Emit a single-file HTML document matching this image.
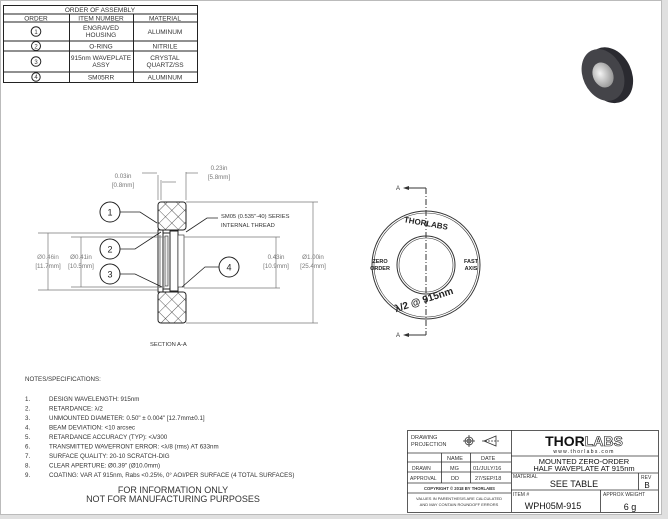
<!DOCTYPE html>
<html><head><meta charset="utf-8"><style>
html,body{margin:0;padding:0;background:#e6e6e6;}
svg{display:block;font-family:"Liberation Sans",sans-serif;}
</style></head><body>
<svg width="668" height="519" viewBox="0 0 668 519" xmlns="http://www.w3.org/2000/svg">
<defs>
<pattern id="hatch" width="9" height="9" patternUnits="userSpaceOnUse" patternTransform="rotate(45)">
<rect width="9" height="9" fill="#fff"/>
<line x1="0" y1="0" x2="0" y2="9" stroke="#333" stroke-width="0.8"/>
<line x1="0" y1="0" x2="9" y2="0" stroke="#333" stroke-width="0.8"/>
</pattern>
<radialGradient id="lens" cx="0.4" cy="0.4" r="0.6"><stop offset="0" stop-color="#f4f4f4"/><stop offset="1" stop-color="#9a9a9a"/></radialGradient>
</defs>
<rect x="0" y="0" width="662" height="515" fill="#fff"/>
<rect x="0.5" y="0.5" width="661" height="514" fill="none" stroke="#bbb"/>
<rect x="662" y="0" width="6" height="519" fill="#e0e0e0"/>
<rect x="0" y="515" width="668" height="4" fill="#e0e0e0"/>

<!-- assembly table -->
<g stroke="#222" stroke-width="1" fill="none">
<rect x="3.5" y="5.5" width="194" height="77"/>
<line x1="3.5" y1="14" x2="197.5" y2="14"/>
<line x1="3.5" y1="22" x2="197.5" y2="22"/>
<line x1="3.5" y1="41" x2="197.5" y2="41"/>
<line x1="3.5" y1="51" x2="197.5" y2="51"/>
<line x1="3.5" y1="72" x2="197.5" y2="72"/>
<line x1="69.5" y1="14" x2="69.5" y2="82"/>
<line x1="133.5" y1="14" x2="133.5" y2="82"/>
<circle cx="36" cy="31.5" r="4.8"/><circle cx="36" cy="46" r="4.5"/><circle cx="36" cy="61.5" r="4.8"/><circle cx="36" cy="77" r="4.2"/>
</g>
<g font-size="6.5" fill="#333" text-anchor="middle">
<text x="100" y="12">ORDER OF ASSEMBLY</text>
<text x="36" y="20.5">ORDER</text><text x="101" y="20.5">ITEM NUMBER</text><text x="165" y="20.5">MATERIAL</text>
<text x="101" y="30">ENGRAVED</text><text x="101" y="37">HOUSING</text><text x="165" y="34">ALUMINUM</text>
<text x="101" y="48.5">O-RING</text><text x="165" y="48.5">NITRILE</text>
<text x="101" y="60">915nm WAVEPLATE</text><text x="101" y="67">ASSY</text>
<text x="165" y="60">CRYSTAL</text><text x="165" y="67">QUARTZ/SS</text>
<text x="101" y="79.5">SM05RR</text><text x="165" y="79.5">ALUMINUM</text>
<text x="36" y="34" font-size="6">1</text><text x="36" y="48.5" font-size="6">2</text><text x="36" y="64" font-size="6">3</text><text x="36" y="79.2" font-size="6">4</text>
</g>

<!-- 3D render -->
<g transform="translate(603,75) rotate(-25)">
<ellipse cx="6" cy="3" rx="22" ry="29" fill="#2a2a30"/>
<ellipse cx="0" cy="0" rx="20" ry="27" fill="#444449"/>
<ellipse cx="0" cy="0" rx="10" ry="13" fill="url(#lens)"/>
</g>

<!-- section view -->
<g stroke="#222" fill="none">
<rect x="158" y="202" width="28" height="28" rx="3" fill="url(#hatch)" stroke="#222"/>
<rect x="158" y="292" width="28" height="31" rx="3" fill="url(#hatch)" stroke="#222"/>
<rect x="158" y="230" width="5" height="62" fill="#fff"/>
<line x1="160" y1="235" x2="160" y2="288" stroke-width="0.6"/>
<rect x="163" y="233" width="7" height="56" fill="#fff" stroke-width="1"/>
<rect x="165" y="236" width="3" height="50" fill="#eee" stroke-width="0.6"/>
<rect x="170" y="231" width="8" height="60" fill="#fff"/>
<rect x="178" y="235" width="6" height="52" fill="#fff" stroke-width="0.6"/>
</g>
<!-- dimension lines -->
<g stroke="#777" stroke-width="0.7" fill="none">
<line x1="158" y1="175" x2="158" y2="200"/><line x1="161" y1="180" x2="161" y2="200"/>
<line x1="142" y1="173" x2="157" y2="173"/><line x1="162" y1="182" x2="176" y2="182"/>
<line x1="186" y1="172" x2="186" y2="200"/><line x1="186" y1="173" x2="198" y2="173"/>
<line x1="186" y1="202" x2="318" y2="202"/><line x1="186" y1="323" x2="318" y2="323"/>
<line x1="313" y1="202" x2="313" y2="323"/>
<line x1="38" y1="233" x2="158" y2="233"/><line x1="38" y1="290" x2="158" y2="290"/>
<line x1="48" y1="233" x2="48" y2="290"/>
<line x1="71" y1="237" x2="165" y2="237"/><line x1="71" y1="287" x2="165" y2="287"/>
<line x1="81" y1="237" x2="81" y2="287"/>
<line x1="184" y1="237" x2="280" y2="237"/><line x1="184" y1="288" x2="280" y2="288"/>
<line x1="276" y1="237" x2="276" y2="288"/>
</g>
<g fill="#777" font-size="6.2" text-anchor="middle">
<text x="123" y="178">0.03in</text><text x="123" y="187">[0.8mm]</text>
<text x="219" y="170">0.23in</text><text x="219" y="179">[5.8mm]</text>
<text x="48" y="259" fill="#888">Ø0.46in</text><text x="48" y="268">[11.7mm]</text>
<text x="81" y="259">Ø0.41in</text><text x="81" y="268">[10.5mm]</text>
<text x="276" y="259">0.43in</text><text x="276" y="268">[10.9mm]</text>
<text x="313" y="259">Ø1.00in</text><text x="313" y="268">[25.4mm]</text>
</g>
<!-- balloons -->
<g stroke="#222" fill="#fff">
<circle cx="110" cy="212" r="10"/><circle cx="110" cy="249" r="10"/><circle cx="110" cy="274" r="10"/><circle cx="229" cy="267" r="10"/>
</g>
<g stroke="#222" fill="none" stroke-width="0.8">
<polyline points="120,212 140,212 157,223"/>
<polyline points="120,249 135,249 161,232"/>
<polyline points="120,274 135,274 162,287"/>
<polyline points="219,267 205,267 182,287"/>
<polyline points="218,218 207,218 186,232"/>
</g>
<g font-size="9" fill="#222" text-anchor="middle">
<text x="110" y="215.5">1</text><text x="110" y="252.5">2</text><text x="110" y="277.5">3</text><text x="229" y="270.5">4</text>
</g>
<g font-size="5.8" fill="#333">
<text x="221" y="218">SM05 (0.535"-40) SERIES</text>
<text x="221" y="227">INTERNAL THREAD</text>
<text x="150" y="346">SECTION A-A</text>
</g>

<!-- front view -->
<g stroke="#333" fill="none">
<circle cx="426" cy="265" r="54"/><circle cx="426" cy="265" r="52" stroke-width="0.6"/>
<circle cx="426" cy="265" r="29"/><circle cx="426" cy="265" r="27" stroke-width="0.6"/>
<line x1="426" y1="188" x2="426" y2="335" stroke-dasharray="6,2,1,2"/>
<line x1="406" y1="188" x2="426" y2="188"/><line x1="406" y1="335" x2="426" y2="335"/>
</g>
<polygon points="403,188 409,186 409,190" fill="#333"/><polygon points="403,335 409,333 409,337" fill="#333"/>
<g fill="#333" font-size="6">
<text x="396" y="190">A</text><text x="396" y="337">A</text>
</g>
<g fill="#222" font-weight="bold" text-anchor="middle">
<text x="426" y="226" font-size="8" transform="rotate(10 426 223)">THORLABS</text>
<text x="380" y="263" font-size="5.5">ZERO</text><text x="380" y="270" font-size="5.5">ORDER</text>
<text x="471" y="263" font-size="5.5">FAST</text><text x="471" y="270" font-size="5.5">AXIS</text>
<text x="424" y="303" font-size="10" transform="rotate(-18 424 300)">λ/2 @ 915nm</text>
</g>

<!-- notes -->
<g font-size="6.2" fill="#333">
<text x="25" y="381">NOTES/SPECIFICATIONS:</text>
<text x="25" y="401">1.</text><text x="49" y="401">DESIGN WAVELENGTH: 915nm</text>
<text x="25" y="410.5">2.</text><text x="49" y="410.5">RETARDANCE: λ/2</text>
<text x="25" y="420">3.</text><text x="49" y="420">UNMOUNTED DIAMETER: 0.50" ± 0.004" [12.7mm±0.1]</text>
<text x="25" y="429.5">4.</text><text x="49" y="429.5">BEAM DEVIATION: &lt;10 arcsec</text>
<text x="25" y="439">5.</text><text x="49" y="439">RETARDANCE ACCURACY (TYP): &lt;λ/300</text>
<text x="25" y="448.5">6.</text><text x="49" y="448.5">TRANSMITTED WAVEFRONT ERROR: &lt;λ/8 (rms) AT 633nm</text>
<text x="25" y="458">7.</text><text x="49" y="458">SURFACE QUALITY: 20-10 SCRATCH-DIG</text>
<text x="25" y="467.5">8.</text><text x="49" y="467.5">CLEAR APERTURE: Ø0.39" (Ø10.0mm)</text>
<text x="25" y="477">9.</text><text x="49" y="477">COATING: VAR AT 915nm, Rabs &lt;0.25%, 0° AOI/PER SURFACE (4 TOTAL SURFACES)</text>
</g>
<g font-size="9" fill="#333" text-anchor="middle">
<text x="173" y="493">FOR INFORMATION ONLY</text>
<text x="173" y="502">NOT FOR MANUFACTURING PURPOSES</text>
</g>

<!-- title block -->
<g stroke="#333" fill="none" stroke-width="0.8">
<rect x="407.5" y="430.5" width="251" height="82"/>
<line x1="511.5" y1="430" x2="511.5" y2="512"/>
<line x1="407" y1="453" x2="511" y2="453"/>
<line x1="407" y1="462" x2="511" y2="462"/>
<line x1="407" y1="472" x2="511" y2="472"/>
<line x1="407" y1="483" x2="511" y2="483"/>
<line x1="407" y1="493" x2="511" y2="493"/>
<line x1="441.5" y1="453" x2="441.5" y2="483"/>
<line x1="470.5" y1="453" x2="470.5" y2="483"/>
<line x1="511" y1="456" x2="658" y2="456"/>
<line x1="511" y1="473" x2="658" y2="473"/>
<line x1="511" y1="490" x2="658" y2="490"/>
<line x1="638.5" y1="473" x2="638.5" y2="490"/>
<line x1="600.5" y1="490" x2="600.5" y2="512"/>
<circle cx="469" cy="441" r="4"/><circle cx="469" cy="441" r="2"/>
<line x1="463" y1="441" x2="475" y2="441"/><line x1="469" y1="435" x2="469" y2="447"/>
<polygon points="484,441 496,436 496,446"/>
<line x1="482" y1="441" x2="500" y2="441" stroke-dasharray="2,1"/>
</g>
<g fill="#333" font-size="5.5">
<text x="411" y="439">DRAWING</text><text x="411" y="446">PROJECTION</text>
<text x="447" y="460">NAME</text><text x="481" y="460">DATE</text>
<text x="412" y="470" font-size="5">DRAWN</text><text x="450" y="470">MG</text><text x="473" y="470">01/JULY/16</text>
<text x="410" y="480" font-size="5">APPROVAL</text><text x="451" y="480">DD</text><text x="475" y="480">27/SEP/18</text>
<text x="424" y="490" font-size="4.2" font-weight="bold">COPYRIGHT © 2018 BY THORLABS</text>
<text x="459" y="500" font-size="4" text-anchor="middle">VALUES IN PARENTHESIS ARE CALCULATED</text>
<text x="459" y="506" font-size="4" text-anchor="middle">AND MAY CONTAIN ROUNDOFF ERRORS</text>
<text x="513" y="478" font-size="5">MATERIAL</text>
<text x="641" y="479" font-size="5">REV</text>
<text x="513" y="496" font-size="5">ITEM #</text>
<text x="603" y="496" font-size="5">APPROX WEIGHT</text>
</g>
<g fill="#111" text-anchor="middle">
<text x="584" y="446" font-size="14" font-weight="bold" font-family="Liberation Sans">THOR<tspan fill="#fff" stroke="#111" stroke-width="0.6">LABS</tspan></text>
<text x="584" y="453" font-size="5" letter-spacing="1.3">www.thorlabs.com</text>
<text x="584" y="464" font-size="7.5">MOUNTED ZERO-ORDER</text>
<text x="584" y="471" font-size="7.5">HALF WAVEPLATE AT 915nm</text>
<text x="574" y="487" font-size="9">SEE TABLE</text>
<text x="647" y="488" font-size="8">B</text>
<text x="553" y="509" font-size="9">WPH05M-915</text>
<text x="630" y="510" font-size="9">6 g</text>
</g>
</svg>
</body></html>
